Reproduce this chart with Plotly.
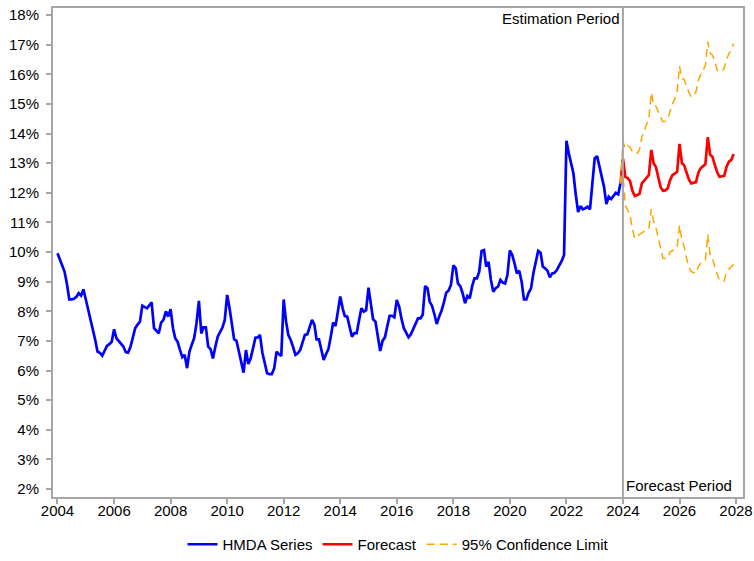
import pandas as pd
import plotly.graph_objects as go

# ---- data (monthly, % ) ----
hmda_start = "2004-01-01"
hmda_values = [
    # 2004
    9.96, 9.75, 9.52, 9.34, 8.94, 8.40, 8.40, 8.42, 8.49, 8.61, 8.53, 8.74,
    # 2005
    8.40, 8.05, 7.82, 7.45, 7.05, 6.64, 6.60, 6.50, 6.70, 6.83, 6.89, 6.97,
    # 2006
    7.39, 7.09, 7.00, 6.90, 6.81, 6.62, 6.60, 6.80, 7.10, 7.43, 7.55, 7.65,
    # 2007
    8.19, 8.15, 8.10, 8.20, 8.30, 7.43, 7.35, 7.26, 7.62, 7.71, 8.00, 7.82,
    # 2008
    8.07, 7.43, 7.09, 6.97, 6.70, 6.45, 6.53, 6.08, 6.65, 6.85, 7.10, 7.60,
    # 2009
    8.35, 7.25, 7.46, 7.46, 6.81, 6.72, 6.41, 6.80, 7.14, 7.30, 7.45, 7.71,
    # 2010
    8.55, 8.10, 7.65, 7.05, 7.01, 6.65, 6.25, 5.93, 6.69, 6.22, 6.41, 6.75,
    # 2011
    7.11, 7.12, 7.20, 6.60, 6.20, 5.91, 5.88, 5.88, 6.08, 6.64, 6.55, 6.49,
    # 2012
    8.40, 7.65, 7.20, 7.03, 6.80, 6.53, 6.58, 6.69, 6.95, 7.20, 7.22, 7.45,
    # 2013
    7.71, 7.54, 7.05, 7.05, 6.70, 6.36, 6.55, 6.72, 7.15, 7.62, 7.50, 8.00,
    # 2014
    8.50, 8.10, 7.84, 7.82, 7.45, 7.14, 7.26, 7.26, 7.70, 8.10, 7.99, 8.04,
    # 2015
    8.80, 8.25, 7.73, 7.65, 7.15, 6.66, 7.00, 7.12, 7.50, 7.85, 7.85, 7.80,
    # 2016
    8.38, 8.16, 7.76, 7.43, 7.28, 7.12, 7.22, 7.40, 7.60, 7.76, 7.76, 7.88,
    # 2017
    8.85, 8.78, 8.33, 8.18, 7.90, 7.57, 7.82, 8.02, 8.30, 8.63, 8.70, 8.89,
    # 2018
    9.55, 9.45, 8.94, 8.85, 8.61, 8.27, 8.52, 8.44, 8.85, 9.11, 9.11, 9.34,
    # 2019
    10.04, 10.07, 9.51, 9.67, 9.06, 8.66, 8.78, 8.83, 9.06, 8.97, 8.94, 9.23,
    # 2020
    10.06, 9.90, 9.62, 9.28, 9.37, 9.00, 8.40, 8.40, 8.63, 8.78, 9.30, 9.70,
    # 2021
    10.04, 9.98, 9.51, 9.45, 9.37, 9.15, 9.28, 9.30, 9.40, 9.55, 9.70, 9.90,
    # 2022
    13.76, 13.33, 13.00, 12.66, 11.95, 11.35, 11.55, 11.44, 11.48, 11.53, 11.44, 12.25,
    # 2023
    13.16, 13.24, 12.88, 12.54, 12.21, 11.62, 11.87, 11.79, 11.90, 12.00, 11.95, 12.32,
]

# forecast begins at last observed month (Dec 2023)
forecast_start = "2023-12-01"
forecast_values = [
    12.32,
    13.16, 12.54, 12.50, 12.40, 12.08, 11.89, 11.92, 11.96, 12.32, 12.42, 12.52, 12.60,
    13.45, 12.99, 12.88, 12.55, 12.20, 12.07, 12.08, 12.15, 12.43, 12.60, 12.66, 12.71,
    13.65, 13.00, 12.94, 12.70, 12.45, 12.32, 12.33, 12.36, 12.68, 12.83, 12.90, 12.96,
    13.88, 13.28, 13.22, 12.95, 12.70, 12.54, 12.55, 12.57, 12.88, 13.05, 13.11, 13.31,
]
upper_values = [
    12.32,
    13.72, 13.50, 13.60, 13.55, 13.39, 13.33, 13.33, 13.45, 13.89, 14.10, 14.30, 14.50,
    15.38, 14.96, 14.93, 14.70, 14.55, 14.40, 14.42, 14.50, 14.80, 15.00, 15.18, 15.41,
    16.28, 15.86, 15.83, 15.60, 15.40, 15.24, 15.28, 15.40, 15.80, 15.98, 16.15, 16.30,
    17.10, 16.71, 16.65, 16.45, 16.14, 16.09, 16.10, 16.20, 16.50, 16.70, 16.82, 17.04,
]
lower_values = [
    12.32,
    12.60, 11.58, 11.40, 11.25, 10.80, 10.46, 10.50, 10.60, 10.65, 10.70, 10.75, 10.80,
    11.45, 11.02, 10.83, 10.45, 10.05, 9.79, 9.78, 9.80, 10.01, 10.05, 10.08, 10.15,
    10.90, 10.40, 10.20, 9.80, 9.50, 9.34, 9.30, 9.28, 9.51, 9.62, 9.68, 9.73,
    10.60, 9.90, 9.79, 9.50, 9.25, 9.06, 9.03, 9.02, 9.34, 9.42, 9.51, 9.59,
]

split_date = "2024-01-01"
y_ticks = list(range(2, 19))
y_tick_labels = [f"{v}%" for v in y_ticks]

hmda_dates = pd.date_range(hmda_start, periods=len(hmda_values), freq="MS")
fc_dates = pd.date_range(forecast_start, periods=len(forecast_values), freq="MS")

GRAY = "#A6A6A6"
FONT = "Liberation Sans, Arial, sans-serif"
FS = 15

fig = go.Figure()
fig.add_trace(go.Scatter(x=hmda_dates, y=hmda_values, mode="lines", name="HMDA Series",
                         line=dict(color="#0000FF", width=2.7)))
fig.add_trace(go.Scatter(x=fc_dates, y=forecast_values, mode="lines", name="Forecast",
                         line=dict(color="#FF0000", width=2.7)))
fig.add_trace(go.Scatter(x=fc_dates, y=upper_values, mode="lines", name="95% Confidence Limit",
                         legendgroup="ci", line=dict(color="#FFA500", width=1.5, dash="8px,5px")))
fig.add_trace(go.Scatter(x=fc_dates, y=lower_values, mode="lines", name="95% Confidence Limit",
                         legendgroup="ci", showlegend=False,
                         line=dict(color="#FFA500", width=1.5, dash="8px,5px")))

fig.add_shape(type="line", xref="x", yref="paper", x0=split_date, x1=split_date, y0=0, y1=1,
              line=dict(color=GRAY, width=2))

fig.add_annotation(x=split_date, y=1, xref="x", yref="paper", text="Estimation Period",
                   showarrow=False, xanchor="right", yanchor="top", xshift=-1, yshift=0,
                   font=dict(family=FONT, size=FS, color="black"))
fig.add_annotation(x=split_date, y=0, xref="x", yref="paper", text="Forecast Period",
                   showarrow=False, xanchor="left", yanchor="bottom", xshift=1, yshift=1,
                   font=dict(family=FONT, size=FS, color="black"))

fig.update_layout(
    width=754, height=561,
    margin=dict(l=53, r=11, t=8, b=64),
    paper_bgcolor="white", plot_bgcolor="white",
    font=dict(family=FONT, size=FS, color="black"),
    showlegend=True,
    legend=dict(orientation="h", x=0.5, xanchor="center", xref="paper",
                y=-0.006, yanchor="bottom", yref="container",
                font=dict(family=FONT, size=FS, color="black"), traceorder="normal"),
)
fig.update_xaxes(
    type="date", range=["2003-11-04", "2028-03-31"], automargin=False,
    tickformat="%Y", dtick="M24", tick0="2004-01-01",
    showgrid=False, zeroline=False,
    showline=True, linecolor=GRAY, linewidth=2, mirror=True,
    ticks="outside", ticklen=5, tickcolor=GRAY, tickwidth=1.5,
    ticklabelstandoff=-6,
    tickfont=dict(family=FONT, size=FS, color="black"),
)
fig.update_yaxes(
    range=[1.73, 18.24], tickvals=y_ticks, ticktext=y_tick_labels, automargin=False,
    showgrid=False, zeroline=False,
    showline=True, linecolor=GRAY, linewidth=2, mirror=True,
    ticks="outside", ticklen=5, tickcolor=GRAY, tickwidth=1.5,
    ticklabelstandoff=4,
    tickfont=dict(family=FONT, size=FS, color="black"),
)

fig.write_html(
    "out.html",
    config={"displayModeBar": False},
    post_script="document.body.style.margin='0px';document.body.style.overflow='hidden';",
)
